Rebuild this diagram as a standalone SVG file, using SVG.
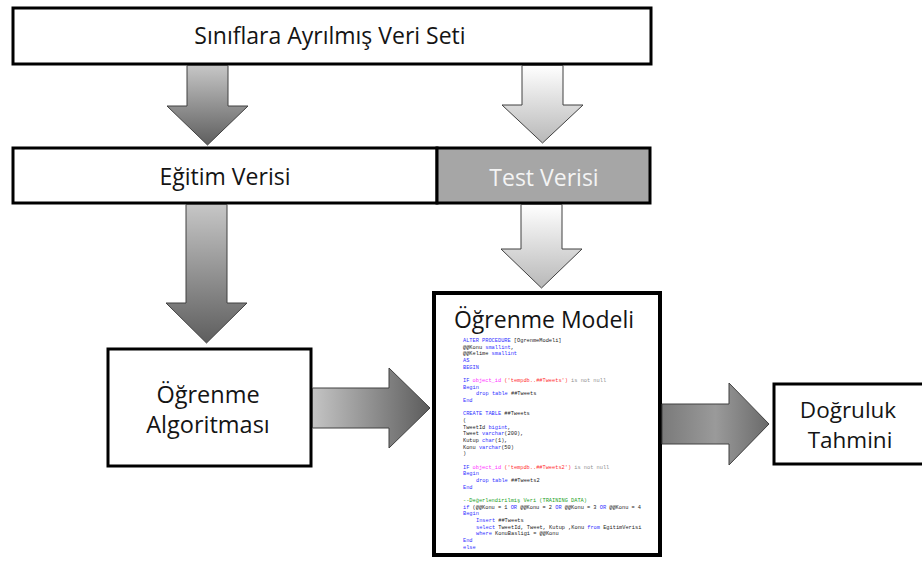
<svg xmlns="http://www.w3.org/2000/svg" width="922" height="561" viewBox="0 0 922 561">
<defs>
<linearGradient id="gDarkV" x1="0" y1="0" x2="0" y2="1"><stop offset="0" stop-color="#c6c6c6"/><stop offset="1" stop-color="#5e5e5e"/></linearGradient>
<linearGradient id="gLightV" x1="0" y1="0" x2="0" y2="1"><stop offset="0" stop-color="#ffffff"/><stop offset="1" stop-color="#b8b8b8"/></linearGradient>
<linearGradient id="gDarkH" x1="0" y1="0" x2="1" y2="0"><stop offset="0" stop-color="#c4c4c4"/><stop offset="1" stop-color="#5c5c5c"/></linearGradient>
<linearGradient id="gDarkH2" x1="0" y1="0" x2="1" y2="0"><stop offset="0" stop-color="#7a7a7a"/><stop offset="0.5" stop-color="#9a9a9a"/><stop offset="1" stop-color="#6a6a6a"/></linearGradient>
</defs>
<style>
.box{fill:#ffffff;stroke:#000000;stroke-width:3}
.arr{stroke:#404040;stroke-width:1;stroke-linejoin:miter}
.lbl{font-family:"Open Sans","Noto Sans",sans-serif;fill:#141414;text-anchor:middle}
.code{font-family:"Liberation Mono","DejaVu Sans Mono",monospace;font-size:5.3px;fill:#222222}
.k{fill:#3030ff}.m{fill:#ff30ff}.r{fill:#ff3030}.g{fill:#909090}.c{fill:#20a020}
</style>
<rect x="0" y="0" width="922" height="561" fill="#ffffff"/>
<g id="node-veriseti">
<rect class="box" x="13" y="8" width="638" height="56"/>
<text class="lbl" x="330" y="44" font-size="23">Sınıflara Ayrılmış Veri Seti</text>
</g>
<g id="node-egitim">
<rect class="box" x="13" y="148" width="424" height="55"/>
<text class="lbl" x="225" y="185" font-size="23">Eğitim Verisi</text>
</g>
<g id="node-test">
<rect class="box" x="437" y="148" width="213" height="55" style="fill:#a6a6a6"/>
<text class="lbl" x="544" y="186" font-size="23" style="fill:#f4f4f4">Test Verisi</text>
</g>
<g id="node-algoritma">
<rect class="box" x="108" y="349" width="203" height="117"/>
<text class="lbl" x="208" y="403" font-size="23.5">Öğrenme</text>
<text class="lbl" x="208" y="433" font-size="23.5">Algoritması</text>
</g>
<g id="node-model">
<rect class="box" x="434" y="293" width="226" height="262" style="stroke-width:4"/>
<text class="lbl" x="544" y="328" font-size="23">Öğrenme Modeli</text>
<g class="code">
<text x="463" y="342"><tspan class="k">ALTER PROCEDURE</tspan> [OgrenmeModeli]</text>
<text x="463" y="348.7">@@Konu <tspan class="k">smallint</tspan>,</text>
<text x="463" y="355.3">@@Kelime <tspan class="k">smallint</tspan></text>
<text x="463" y="362" class="k">AS</text>
<text x="463" y="368.7" class="k">BEGIN</text>
<text x="463" y="382"><tspan class="k">IF</tspan> <tspan class="m">object_id</tspan> <tspan class="r">('tempdb..##Tweets')</tspan> <tspan class="g">is not null</tspan></text>
<text x="463" y="388.7" class="k">Begin</text>
<text x="476" y="395.3"><tspan class="k">drop table</tspan> ##Tweets</text>
<text x="463" y="402" class="k">End</text>
<text x="463" y="415.3"><tspan class="k">CREATE TABLE</tspan> ##Tweets</text>
<text x="463" y="422">(</text>
<text x="463" y="428.7">TweetId <tspan class="k">bigint</tspan>,</text>
<text x="463" y="435.3">Tweet <tspan class="k">varchar</tspan>(200),</text>
<text x="463" y="442">Kutup <tspan class="k">char</tspan>(1),</text>
<text x="463" y="448.7">Konu <tspan class="k">varchar</tspan>(50)</text>
<text x="463" y="455.3">)</text>
<text x="463" y="468.7"><tspan class="k">IF</tspan> <tspan class="m">object_id</tspan> <tspan class="r">('tempdb..##Tweets2')</tspan> <tspan class="g">is not null</tspan></text>
<text x="463" y="475.3" class="k">Begin</text>
<text x="476" y="482"><tspan class="k">drop table</tspan> ##Tweets2</text>
<text x="463" y="488.7" class="k">End</text>
<text x="463" y="502" class="c">--Değerlendirilmiş Veri (TRAINING DATA)</text>
<text x="463" y="508.7"><tspan class="k">if</tspan> (@@Konu = 1 <tspan class="k">OR</tspan> @@Konu = 2 <tspan class="k">OR</tspan> @@Konu = 3 <tspan class="k">OR</tspan> @@Konu = 4</text>
<text x="463" y="515.3" class="k">Begin</text>
<text x="476" y="522"><tspan class="k">Insert</tspan> ##Tweets</text>
<text x="476" y="528.7"><tspan class="k">select</tspan> TweetId, Tweet, Kutup ,Konu <tspan class="k">from</tspan> EgitimVerisi</text>
<text x="476" y="535.3"><tspan class="k">where</tspan> KonuBasligi = @@Konu</text>
<text x="463" y="542" class="k">End</text>
<text x="463" y="548.7" class="k">else</text>
</g>
</g>
<g id="node-dogruluk">
<rect class="box" x="774" y="384" width="150" height="80"/>
<text class="lbl" x="848" y="418" font-size="22.5">Doğruluk</text>
<text class="lbl" x="850" y="448" font-size="22.5">Tahmini</text>
</g>
<g id="connectors">
<path class="arr" fill="url(#gDarkV)" d="M187,65.5 L228,65.5 L228,106 L248,106 L207.5,145 L167,106 L187,106 Z"/>
<path class="arr" fill="url(#gLightV)" d="M522,65.5 L563,65.5 L563,105 L583,105 L542.5,143 L502,105 L522,105 Z"/>
<path class="arr" fill="url(#gLightV)" d="M521,204.5 L562,204.5 L562,249 L582,249 L541.5,288 L501,249 L521,249 Z"/>
<path class="arr" fill="url(#gDarkV)" d="M186,204.5 L227,204.5 L227,303 L247,303 L206.5,343 L166,303 L186,303 Z"/>
<path class="arr" fill="url(#gDarkH)" d="M312.5,388 L389,388 L389,368 L430,408 L389,448 L389,428 L312.5,428 Z"/>
<path class="arr" fill="url(#gDarkH2)" d="M662,404 L729,404 L729,383 L769,424 L729,465 L729,444 L662,444 Z"/>
</g>
</svg>
